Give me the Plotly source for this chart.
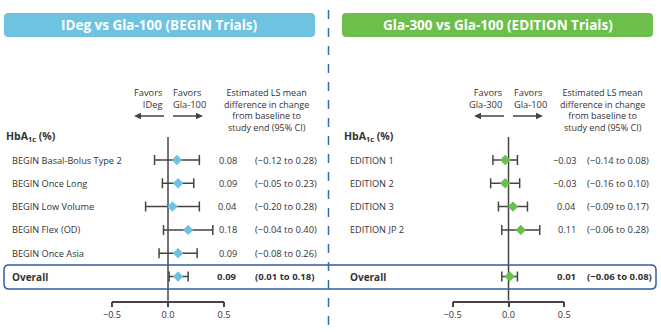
import plotly.graph_objects as go

# ---- data ----
begin_studies = ["BEGIN Basal-Bolus Type 2", "BEGIN Once Long", "BEGIN Low Volume",
                 "BEGIN Flex (OD)", "BEGIN Once Asia"]
begin_est = [0.08, 0.09, 0.04, 0.18, 0.09]
begin_lo = [-0.12, -0.05, -0.20, -0.04, -0.08]
begin_hi = [0.28, 0.23, 0.28, 0.40, 0.26]
begin_overall = (0.09, 0.01, 0.18)

edition_studies = ["EDITION 1", "EDITION 2", "EDITION 3", "EDITION JP 2"]
edition_est = [-0.03, -0.03, 0.04, 0.11]
edition_lo = [-0.14, -0.16, -0.09, -0.06]
edition_hi = [0.08, 0.10, 0.17, 0.28]
edition_overall = (0.01, -0.06, 0.08)

tick_vals = [-0.5, 0.0, 0.5]
tick_text = ["\u22120.5", "0.0", "0.5"]

# ---- layout helpers ----
W, H = 661, 332
FONT = "Open Sans"
TXT = "#333333"
BLUE = "#6EC3E1"
GREEN = "#6DBF4C"
AX = "#444444"
ROW0, ROWH = 160.0, 23.3
AXIS_PX = 300.7


def px(x):
    return x / W


def py(y):
    return 1 - y / H


def rowy(p):
    return (p - ROW0) / ROWH


def fmt(v):
    s = f"{v:.2f}"
    return s.replace("-", "\u2212")


def ci(lo, hi):
    return f"({fmt(lo)} to {fmt(hi)})"


def rounded(x0, y0, x1, y1, r):
    X0, X1 = px(x0), px(x1)
    Y0, Y1 = py(y0), py(y1)
    rx, ry = r / W, r / H
    return (f"M{X0+rx},{Y0} L{X1-rx},{Y0} Q{X1},{Y0} {X1},{Y0-ry} "
            f"L{X1},{Y1+ry} Q{X1},{Y1} {X1-rx},{Y1} L{X0+rx},{Y1} "
            f"Q{X0},{Y1} {X0},{Y1+ry} L{X0},{Y0-ry} Q{X0},{Y0} {X0+rx},{Y0} Z")


def note(x, y, text, size=9, xanchor="left", yref="paper", color=TXT, align=None):
    d = dict(x=px(x), y=py(y) if yref == "paper" else y, xref="paper", yref=yref,
             text=text, showarrow=False, xanchor=xanchor, yanchor="middle",
             font=dict(family=FONT, size=size, color=color))
    if align:
        d["align"] = align
    return d


def arrow(tail, head, y):
    sgn = 1 if head > tail else -1
    base = head - sgn * 7
    return [
        dict(type="line", xref="paper", yref="paper", x0=px(tail), x1=px(base + sgn * 1),
             y0=py(y), y1=py(y), line=dict(color=AX, width=1.5)),
        dict(type="path", xref="paper", yref="paper",
             path=f"M{px(head)},{py(y)} L{px(base)},{py(y - 3.2)} L{px(base)},{py(y + 3.2)} Z",
             fillcolor=AX, line=dict(width=0)),
    ]


fig = go.Figure()

panels = [
    dict(xa="x", studies=begin_studies, est=begin_est, lo=begin_lo, hi=begin_hi,
         ov=begin_overall, color=BLUE, label_x=10, val_x=239, ci_x=253,
         title="IDeg vs Gla-100 (BEGIN Trials)", box=(4, 315), bcol=BLUE,
         fav_l="Favors<br>IDeg", fav_r="Favors<br>Gla-100", fav_x=(165, 171),
         arr_l=(164, 134), arr_r=(173, 203), est_x=266, hb_x=4),
    dict(xa="x2", studies=edition_studies, est=edition_est, lo=edition_lo, hi=edition_hi,
         ov=edition_overall, color=GREEN, label_x=348, val_x=578, ci_x=585,
         title="Gla-300 vs Gla-100 (EDITION Trials)", box=(342, 653), bcol=GREEN,
         fav_l="Favors<br>Gla-300", fav_r="Favors<br>Gla-100", fav_x=(505, 511.5),
         arr_l=(504, 474), arr_r=(513, 543), est_x=602, hb_x=342),
]

shapes = []
ann = []

for p in panels:
    n = len(p["studies"])
    ys = list(range(n)) + [5]
    est = p["est"] + [p["ov"][0]]
    lo = p["lo"] + [p["ov"][1]]
    hi = p["hi"] + [p["ov"][2]]
    fig.add_trace(go.Scatter(
        x=est, y=ys, xaxis=p["xa"], yaxis="y", mode="markers",
        marker=dict(symbol="diamond", size=8, color=p["color"], line=dict(width=0)),
        error_x=dict(type="data", symmetric=False,
                     array=[h - e for h, e in zip(hi, est)],
                     arrayminus=[e - l for e, l in zip(est, lo)],
                     color=AX, thickness=1.5, width=5),
        cliponaxis=False, showlegend=False, hoverinfo="skip"))

    # zero line
    shapes.append(dict(type="line", xref=p["xa"], yref="y", x0=0, x1=0,
                       y0=rowy(137), y1=rowy(AXIS_PX), line=dict(color=AX, width=1.5),
                       layer="below"))

    # header box
    shapes.append(dict(type="path", xref="paper", yref="paper",
                       path=rounded(p["box"][0], 13, p["box"][1], 37, 4),
                       fillcolor=p["bcol"], line=dict(width=0)))
    ann.append(note((p["box"][0] + p["box"][1]) / 2, 25, f"<b>{p['title']}</b>",
                    size=13.5, xanchor="center", color="white"))

    # favors
    ann.append(note(p["fav_x"][0], 99, p["fav_l"], size=9.3, xanchor="right", align="right"))
    ann.append(note(p["fav_x"][1], 99, p["fav_r"], size=9.3, xanchor="left", align="left"))
    shapes += arrow(p["arr_l"][0], p["arr_l"][1], 116)
    shapes += arrow(p["arr_r"][0], p["arr_r"][1], 116)
    ann.append(note(p["est_x"], 110,
                    "Estimated LS mean<br>difference in change<br>from baseline to<br>study end (95% CI)",
                    size=9, xanchor="center", align="center"))
    ann.append(note(p["hb_x"], 136, "<b>HbA<sub>1c</sub> (%)</b>", size=10.5))

    # rows
    for i, s in enumerate(p["studies"]):
        ann.append(note(p["label_x"], i, s, size=9.2, yref="y"))
        ann.append(note(p["val_x"], i, fmt(p["est"][i]), size=9.2, yref="y", xanchor="right"))
        ann.append(note(p["ci_x"], i, ci(p["lo"][i], p["hi"][i]), size=9.4, yref="y"))
    ann.append(note(p["label_x"], 5, "<b>Overall</b>", size=10, yref="y"))
    ann.append(note(p["val_x"], 5, f"<b>{fmt(p['ov'][0])}</b>", size=9.5, yref="y", xanchor="right"))
    ann.append(note(p["ci_x"], 5, f"<b>{ci(p['ov'][1], p['ov'][2])}</b>", size=9.5, yref="y"))

# overall box
shapes.append(dict(type="path", xref="paper", yref="paper", path=rounded(4, 265, 656, 289, 5),
                   line=dict(color="#2F5F9E", width=1.5), fillcolor="rgba(0,0,0,0)"))
# divider
shapes.append(dict(type="line", xref="paper", yref="paper", x0=px(328.5), x1=px(328.5),
                   y0=py(10), y1=0, line=dict(color="#2E6DB4", width=1.5, dash="dash")))

axis_common = dict(range=[-0.5, 0.5], tickvals=tick_vals, ticktext=tick_text,
                   showline=True, linecolor=AX, linewidth=1.5, ticks="outside",
                   ticklen=5, tickwidth=1.5, tickcolor=AX, showgrid=False, zeroline=False,
                   tickfont=dict(family=FONT, size=9.2, color=TXT), fixedrange=True,
                   automargin=False)

fig.update_layout(
    width=W, height=H, margin=dict(l=0, r=0, t=0, b=0, pad=0), autosize=False,
    paper_bgcolor="white", plot_bgcolor="rgba(0,0,0,0)",
    xaxis=dict(domain=[px(112), px(224)], anchor="y", **axis_common),
    xaxis2=dict(domain=[px(452.7), px(564.3)], anchor="y", **axis_common),
    yaxis=dict(domain=[py(AXIS_PX), 1], range=[rowy(AXIS_PX), rowy(0)], visible=False,
               fixedrange=True, automargin=False),
    shapes=shapes, annotations=ann, showlegend=False,
)

fig.write_html("out.html")
